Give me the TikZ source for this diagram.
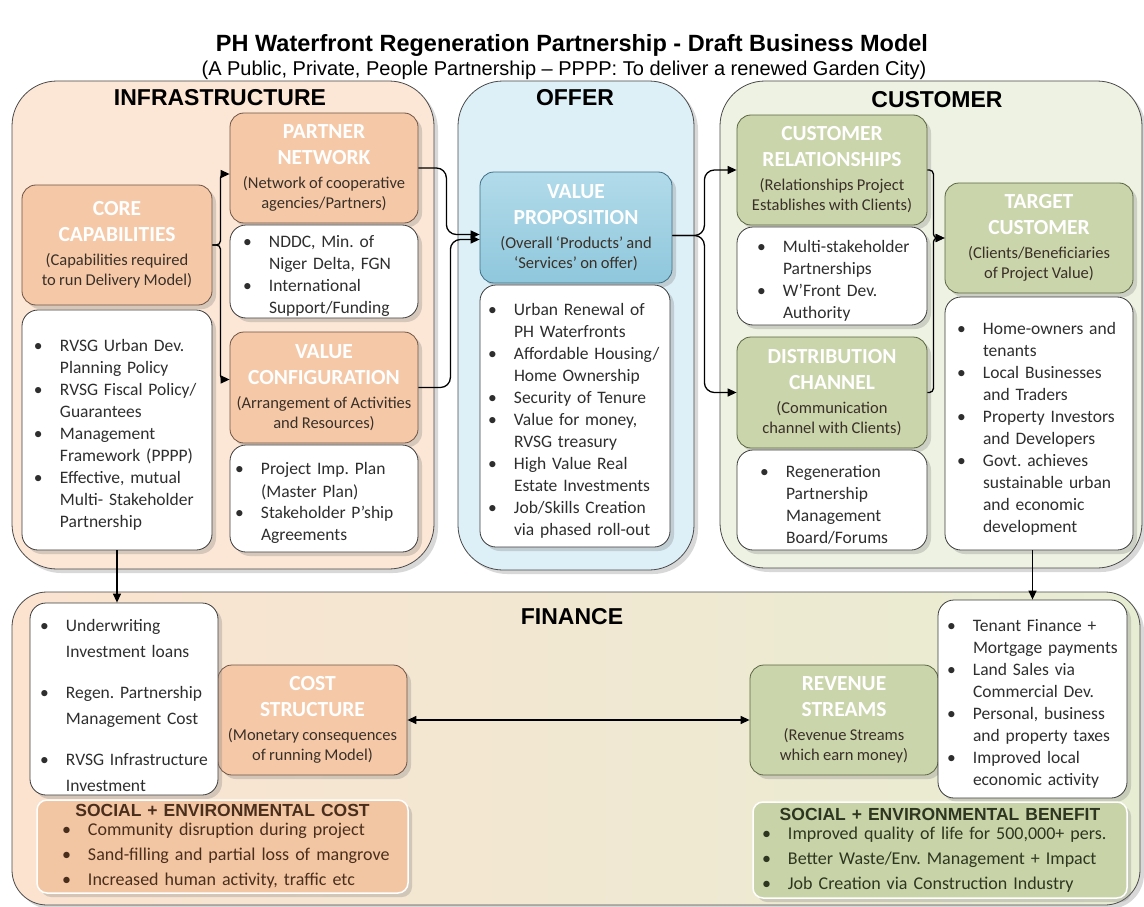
\documentclass[tikz,border=0pt]{standalone}
\usepackage{fontspec}
\setmainfont{Carlito}
\newfontfamily\arialfont{Liberation Sans}
\usetikzlibrary{arrows.meta,shadows}
\frenchspacing

\definecolor{peach}{HTML}{F5C9A8}
\definecolor{peachline}{HTML}{6E5444}
\definecolor{sage}{HTML}{CBD5AC}
\definecolor{sageline}{HTML}{5A6440}
\definecolor{vptop}{HTML}{B2DBEA}
\definecolor{vpblue}{HTML}{8FC7DC}
\definecolor{vpline}{HTML}{3E6E84}
\definecolor{listline}{HTML}{3C3C3C}
\definecolor{listtext}{HTML}{2E2E2E}
\definecolor{subtext}{HTML}{3A3028}
\definecolor{zoneline}{HTML}{4A4A4A}
\definecolor{infrafill}{HTML}{FCE6D5}
\definecolor{offerfill}{HTML}{DDEFF7}
\definecolor{custfill}{HTML}{EEF2E2}
\definecolor{finleft}{HTML}{FBE3D0}
\definecolor{finmid}{HTML}{F6EEDC}
\definecolor{finright}{HTML}{E7EDD3}
\definecolor{costfill}{HTML}{F3C6A3}
\definecolor{costtext}{HTML}{4A2E1C}
\definecolor{benefill}{HTML}{C8D4A7}
\definecolor{benetext}{HTML}{2E3520}

\newlength\bulx
\newlength\bultx
\newcommand\bulat[1]{\raggedright\setlength\bulx{#1pt}\setlength\bultx{\dimexpr#1pt+26pt\relax}}
\newcommand\bul[1]{\par\noindent\hangindent=\bultx\hangafter=1\makebox[\bultx][l]{\hspace{\bulx}\textbullet}{\let\\\newline #1}\par}
\newcommand\listfont{\fontsize{17.5}{22}\selectfont}
\newcommand\hdrfont{\bfseries\fontsize{21.5}{26}\selectfont\color{white}}
\newcommand\subfont{\fontsize{16.5}{20}\selectfont}
\newcommand\cattext[2]{{\hdrfont #1\par}\vspace{4pt}{\subfont #2\par}}
\newcommand\impactfont{\fontsize{18}{25}\selectfont}
\newcommand\impacttitle[1]{{\centering\arialfont\bfseries\fontsize{17.5}{20}\selectfont #1\par}\vspace{-6pt}}

\begin{document}
\begin{tikzpicture}[
        x = 1pt, y = -1pt,
        line join = round,
        boxshadow/.style = {drop shadow={opacity=0.3, shadow xshift=4pt, shadow yshift=-4pt}},
        zone/.style = {draw=zoneline, line width=0.8pt, rounded corners=45pt, inner sep=0pt, boxshadow},
        zonetitle/.style = {font=\arialfont\bfseries\fontsize{23}{26}\selectfont, text=black},
        catbox/.style = {rounded corners=14pt, line width=0.8pt, inner xsep=2pt, inner ysep=2pt, align=center, text=subtext, boxshadow},
        infrabox/.style = {catbox, fill=peach, draw=peachline},
        offerbox/.style = {catbox, top color=vptop, bottom color=vpblue, draw=vpline},
        custbox/.style = {catbox, fill=sage, draw=sageline},
        listbox/.style = {draw=listline, fill=white, rounded corners=16pt, line width=0.8pt, inner sep=0pt, font=\listfont, text=listtext, boxshadow},
        impactbox/.style = {draw=white, line width=1.5pt, rounded corners=10pt, inner sep=0pt, font=\impactfont, boxshadow},
        arr/.style = {-{Triangle[length=9pt, width=8pt]}, line width=1.3pt, rounded corners=10pt},
        dblarr/.style = {{Triangle[length=9pt, width=8pt]}-{Triangle[length=9pt, width=8pt]}, line width=1.3pt}
    ]

    \fill[white] (0,0) rectangle (1144,907);
    \useasboundingbox (0,0) rectangle (1144,907);

    \node[font=\arialfont\bfseries\fontsize{23.5}{27}\selectfont] (title) at (572,45) {PH Waterfront Regeneration Partnership - Draft Business Model};
    \node[font=\arialfont\fontsize{20}{22}\selectfont] (subtitle) at (564,70) {(A Public, Private, People Partnership – PPPP: To deliver a renewed Garden City)};

    \node[zone, fill=infrafill, minimum width=422pt, minimum height=488pt] (infra) at (223,325) {};
    \node[zone, fill=offerfill, minimum width=236pt, minimum height=489pt] (offer) at (576,325.5) {};
    \node[zone, fill=custfill, minimum width=422pt, minimum height=487pt] (customer) at (931,324.5) {};
    \node[zone, left color=finleft, middle color=finmid, right color=finright, rounded corners=35pt, minimum width=1128pt, minimum height=313pt] (finance) at (576,748.5) {};

    \node[zonetitle] (infratitle) at (220,98) {INFRASTRUCTURE};
    \node[zonetitle] (offertitle) at (575,98) {OFFER};
    \node[zonetitle] (custtitle) at (937,100) {CUSTOMER};
    \node[zonetitle] (fintitle) at (572,617) {FINANCE};

    \node[infrabox, text width=186pt, minimum height=120pt] (core) at (117,245) {\cattext{CORE\\CAPABILITIES}{(Capabilities required\\to run Delivery Model)}};
    \node[infrabox, text width=184pt, minimum height=110pt] (partner) at (324,168) {\cattext{PARTNER\\NETWORK}{(Network of cooperative\\agencies/Partners)}};
    \node[infrabox, text width=184pt, minimum height=111pt] (config) at (324,387.5) {\cattext{VALUE\\CONFIGURATION}{(Arrangement of Activities\\and Resources)}};
    \node[offerbox, text width=188pt, minimum height=111pt] (vp) at (576,227.5) {\cattext{VALUE\\PROPOSITION}{(Overall ‘Products’ and\\‘Services’ on offer)}};
    \node[custbox, text width=186pt, minimum height=110pt] (relation) at (832,170) {\cattext{CUSTOMER\\RELATIONSHIPS}{(Relationships Project\\Establishes with Clients)}};
    \node[custbox, text width=186pt, minimum height=111pt] (channel) at (832,392.5) {\cattext{DISTRIBUTION\\CHANNEL}{(Communication\\channel with Clients)}};
    \node[custbox, text width=184pt, minimum height=110pt] (target) at (1039,238) {\cattext{TARGET\\CUSTOMER}{(Clients/Beneficiaries\\of Project Value)}};
    \node[infrabox, text width=185pt, minimum height=110pt] (cost) at (312.5,720) {\cattext{COST\\STRUCTURE}{(Monetary consequences\\of running Model)}};
    \node[custbox, text width=184pt, minimum height=110pt] (revenue) at (844,720) {\cattext{REVENUE\\STREAMS}{(Revenue Streams\\which earn money)}};

    \node[listbox, text width=190pt, minimum height=240pt] (corelist) at (117,430) {\bulat{12}%
        \bul{RVSG Urban Dev.\\Planning Policy}\bul{RVSG Fiscal Policy/\\Guarantees}%
        \bul{Management\\Framework (PPPP)}\bul{Effective, mutual\\Multi- Stakeholder\\Partnership}};
    \node[listbox, text width=188pt, minimum height=93pt] (partnerlist) at (324,271.5) {\bulat{13}%
        \bul{NDDC, Min. of\\Niger Delta, FGN}\bul{International\\Support/Funding}};
    \node[listbox, text width=188pt, minimum height=107pt] (configlist) at (324,498.5) {\bulat{5}%
        \bul{Project Imp. Plan\\(Master Plan)}\bul{Stakeholder P’ship\\Agreements}};
    \node[listbox, text width=190pt, minimum height=262pt] (vplist) at (575,416) {\bulat{8}%
        \bul{Urban Renewal of\\PH Waterfronts}\bul{Affordable Housing/\\Home Ownership}%
        \bul{Security of Tenure}\bul{Value for money,\\RVSG treasury}%
        \bul{High Value Real\\Estate Investments}\bul{Job/Skills Creation\\via phased roll-out}};
    \node[listbox, text width=190pt, minimum height=98pt] (relationlist) at (832,276) {\bulat{20}%
        \bul{Multi-stakeholder\\Partnerships}\bul{W’Front Dev.\\Authority}};
    \node[listbox, text width=190pt, minimum height=100pt] (channellist) at (832,500) {\bulat{23}%
        \bul{Regeneration\\Partnership\\Management\\Board/Forums}};
    \node[listbox, text width=188pt, minimum height=253pt] (targetlist) at (1039,423.5) {\bulat{12}%
        \bul{Home-owners and\\tenants}\bul{Local Businesses\\and Traders}%
        \bul{Property Investors\\and Developers}\bul{Govt. achieves\\sustainable urban\\and economic\\development}};
    \node[listbox, text width=188pt, minimum height=192pt, font=\fontsize{17.5}{25.5}\selectfont] (costlist) at (124,699) {\bulat{10}%
        \bul{Underwriting\\Investment loans}\vspace{16pt}\bul{Regen. Partnership\\Management Cost}\vspace{16pt}%
        \bul{RVSG Infrastructure\\Investment}};
    \node[listbox, text width=189pt, minimum height=198pt] (revenuelist) at (1032.5,699) {\bulat{9}%
        \bul{Tenant Finance +\\Mortgage payments}\bul{Land Sales via\\Commercial Dev.}%
        \bul{Personal, business\\and property taxes}\bul{Improved local\\economic activity}};

    \node[impactbox, fill=costfill, text=costtext, text width=371pt, minimum height=93pt] (socialcost) at (222.5,846.5) {%
        \impacttitle{SOCIAL + ENVIRONMENTAL COST}\bulat{25}%
        \bul{Community disruption during project}\bul{Sand-filling and partial loss of mangrove}%
        \bul{Increased human activity, traffic etc}};
    \node[impactbox, fill=benefill, text=benetext, text width=374pt, minimum height=96pt] (socialbenefit) at (940,850) {%
        \impacttitle{SOCIAL + ENVIRONMENTAL BENEFIT}\bulat{9}%
        \bul{Improved quality of life for 500,000+ pers.}\bul{Better Waste/Env. Management + Impact}%
        \bul{Job Creation via Construction Industry}};

    \draw[arr, rounded corners=4pt] (core.east) -- ++(8,0) |- ([yshift=-6pt]partner.west);
    \draw[arr, rounded corners=4pt] (core.east) -- ++(8,0) |- ([yshift=8pt]config.west);
    \draw[arr] (partner.east) -- ++(28,0) |- ([yshift=-7pt]vp.west);
    \draw[arr] (config.east) -- ++(32,0) |- ([yshift=-12pt]vp.west);
    \draw[arr] ([yshift=-8pt]vp.east) -- ++(32,0) |- (relation.west);
    \draw[arr] ([yshift=-8pt]vp.east) -- ++(32,0) |- (channel.west);
    \draw[arr, rounded corners=4pt] (relation.east) -- ++(6,0) |- (target.west);
    \draw[arr, rounded corners=4pt] (channel.east) -- ++(6,0) |- (target.west);
    \draw[arr] (corelist.south) -- (corelist.south |- costlist.north);
    \draw[arr] (revenuelist.north |- targetlist.south) -- (revenuelist.north);
    \draw[dblarr] (cost.east) -- (revenue.west);
\end{tikzpicture}
\end{document}
